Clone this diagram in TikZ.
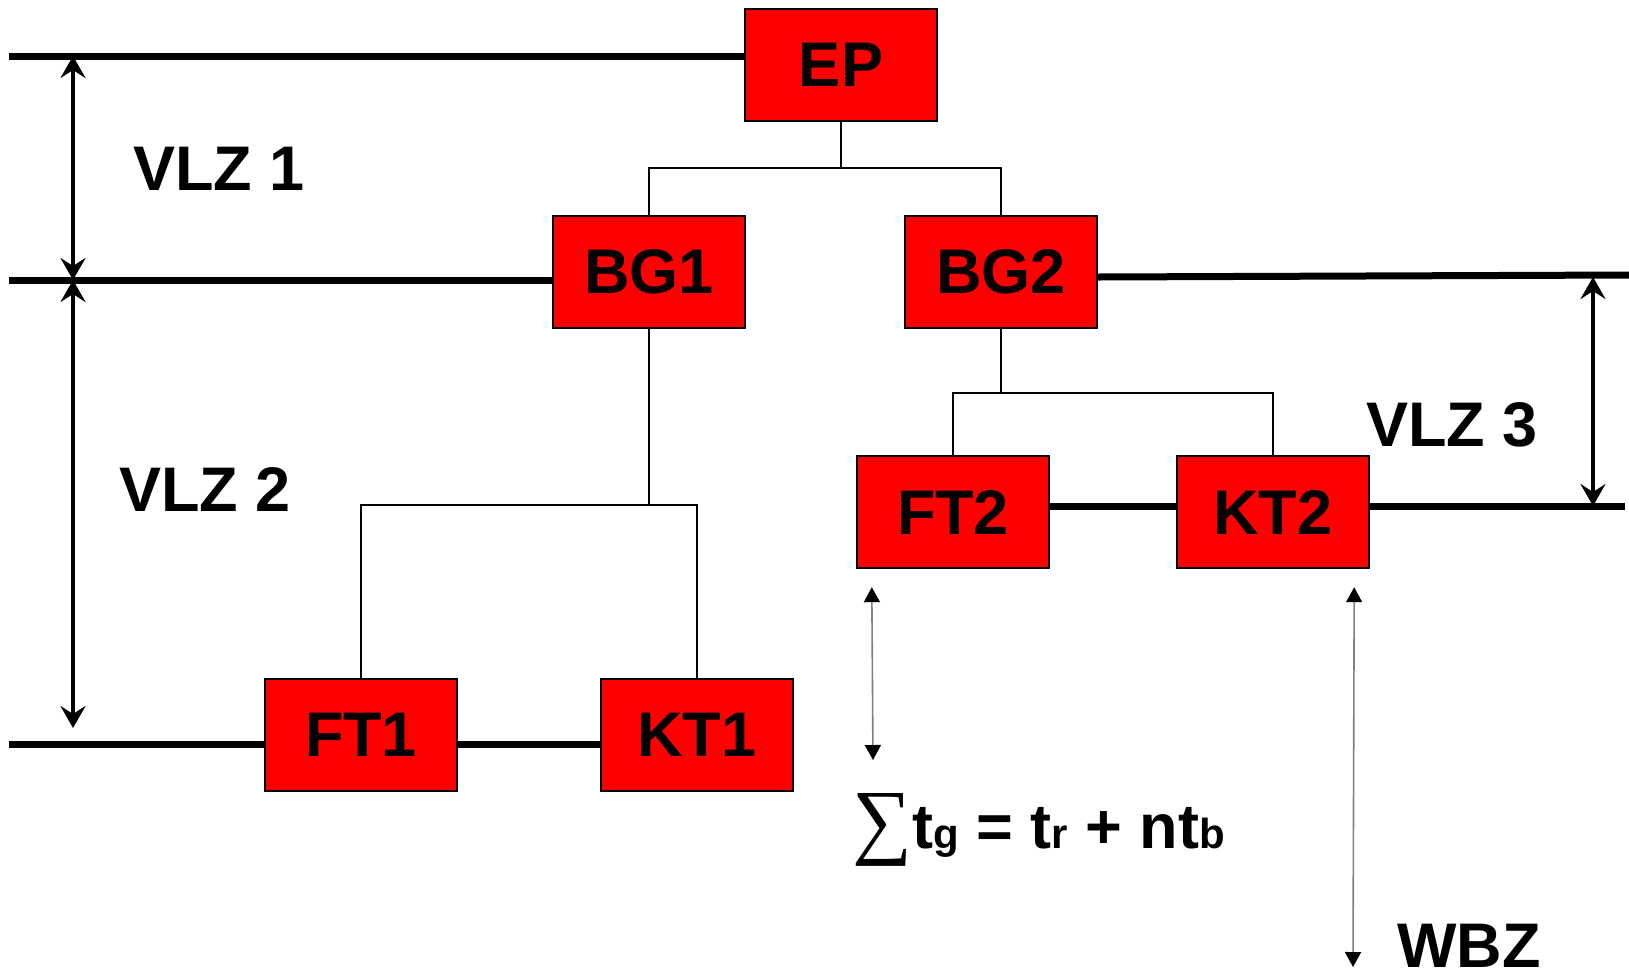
\documentclass[tikz,border=0pt]{standalone}
\usepackage{fontspec}
\setmainfont{Liberation Sans}
\newfontfamily\sumfont{Liberation Serif}
\newcommand\subsz{\fontsize{21}{24}\selectfont}
\usetikzlibrary{arrows.meta}

\begin{document}
\begin{tikzpicture}[x=0.5pt,y=-0.5pt,
    unit/.style={draw=black,line width=1.2pt,fill=red,minimum width=96pt,minimum height=56pt,inner sep=0pt,font=\fontsize{31.5}{36}\selectfont\bfseries},
    level/.style={line width=3.5pt},
    tree/.style={line width=0.8pt},
    span/.style={line width=1.8pt,{Stealth[length=11pt,width=12.5pt,inset=4pt]}-{Stealth[length=11pt,width=12.5pt,inset=4pt]}},
    period/.style={gray,line width=0.8pt,{Triangle[length=7.5pt,width=8pt,color=black]}-{Triangle[length=7.5pt,width=8pt,color=black]}},
    zone/.style={font=\fontsize{31.5}{36}\selectfont\bfseries}]
    \useasboundingbox (0,0) rectangle (1629,976);

    \node[unit] (EP) at (841,65) {EP};
    \node[unit] (BG1) at (649,272) {BG1};
    \node[unit] (BG2) at (1001,272) {BG2};
    \node[unit] (FT2) at (953,512) {FT2};
    \node[unit] (KT2) at (1273,512) {KT2};
    \node[unit] (FT1) at (361,735) {FT1};
    \node[unit] (KT1) at (697,735) {KT1};

    \draw[tree] (EP.south) -- ++(0,46) -| (BG1.north);
    \draw[tree] (EP.south) -- ++(0,46) -| (BG2.north);
    \draw[tree] (BG1.south) -- ++(0,176) -| (FT1.north);
    \draw[tree] (BG1.south) -- ++(0,176) -| (KT1.north);
    \draw[tree] (BG2.south) -- ++(0,64) -| (FT2.north);
    \draw[tree] (BG2.south) -- ++(0,64) -| (KT2.north);

    \coordinate (w1) at (9,56);
    \coordinate (w2) at (9,280);
    \coordinate (w4) at (9,744);
    \coordinate (e2) at (1629,275);
    \coordinate (e3) at (1625,506);
    \draw[level] (w1) -- (w1 -| EP.west);
    \draw[level] (w2) -- (w2 -| BG1.west);
    \draw[level] ([yshift=-2.5pt]BG2.east) -- (e2);
    \draw[level] (FT2.east |- e3) -- (KT2.west |- e3);
    \draw[level] (KT2.east |- e3) -- (e3);
    \draw[level] (w4) -- (FT1.west |- w4);
    \draw[level] (FT1.east |- w4) -- (KT1.west |- w4);

    \coordinate (v1) at (73,56);
    \coordinate (v2) at (73,280);
    \coordinate (v3) at (73,728);
    \coordinate (v4) at (1593,277);
    \coordinate (v5) at (1593,506);
    \draw[span] (v1) -- (v2);
    \draw[span] (v2) -- (v3);
    \draw[span] (v4) -- (v5);

    \coordinate (p1) at (873,760);
    \coordinate (p2) at (1353,967);
    \draw[period] ([shift={(16,18)}]FT2.south west) -- (p1);
    \draw[period] ([shift={(-16,18)}]KT2.south east) -- (p2);

    \node[zone] (vlz1) at (219,169) {VLZ 1};
    \node[zone] (vlz2) at (205,489) {VLZ 2};
    \node[zone] (vlz3) at (1452,425) {VLZ 3};
    \node[zone,anchor=base west,inner sep=0pt] (sum) at (852,848) {{\sumfont\mdseries\fontsize{42}{44}\selectfont ∑}t{\subsz g} = t{\subsz r} + nt{\subsz b}};
    \node[zone,anchor=base west,inner sep=0pt] (wbz) at (1397,967) {WBZ};

\end{tikzpicture}
\end{document}
